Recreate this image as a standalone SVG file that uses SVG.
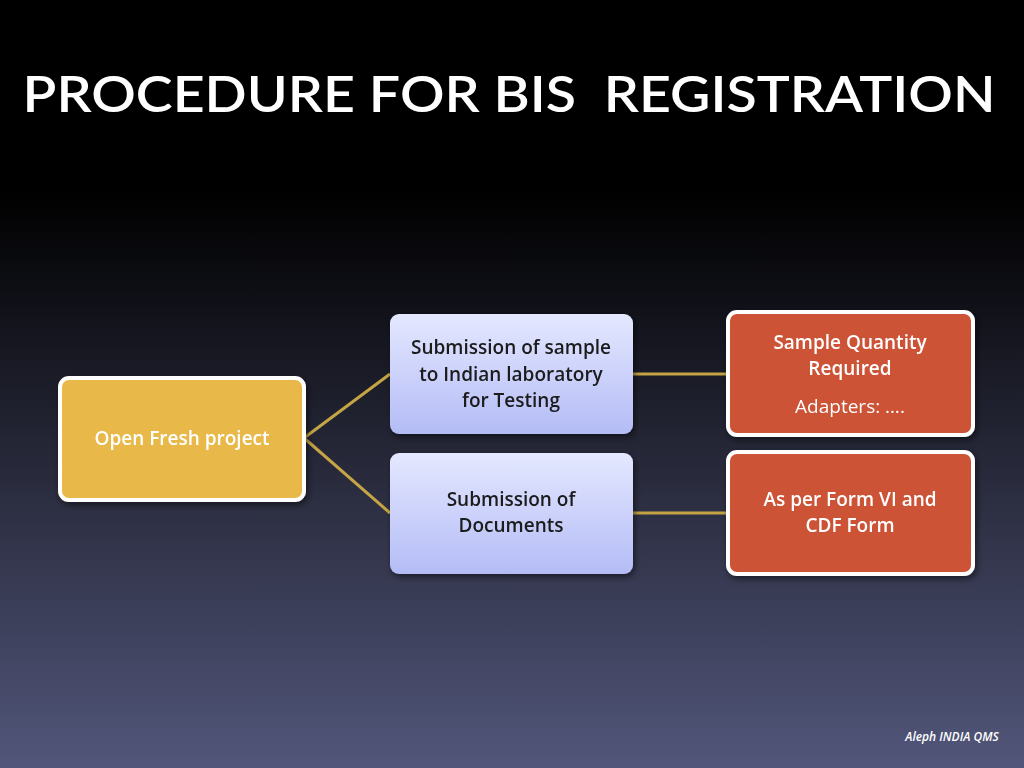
<svg xmlns="http://www.w3.org/2000/svg" width="1024" height="768" viewBox="0 0 1024 768">
<defs>
<linearGradient id="bg" x1="0" y1="0" x2="0" y2="1">
<stop offset="0" stop-color="#000"/><stop offset="0.25" stop-color="#000"/><stop offset="1" stop-color="#52567a"/>
</linearGradient>
<linearGradient id="blue" x1="0" y1="0" x2="0" y2="1">
<stop offset="0" stop-color="#e4e8ff"/><stop offset="1" stop-color="#b4bcf6"/>
</linearGradient>
<filter id="sh" x="-10%" y="-10%" width="130%" height="130%"><feDropShadow dx="2" dy="3" stdDeviation="3" flood-opacity="0.5"/></filter>
</defs>
<style>
text{font-family:"Open Sans","Liberation Sans",sans-serif;font-weight:600;text-anchor:middle}
.w{fill:#fff;font-size:19px}
.d{fill:#1a1a1a;font-size:19px}
.gold{fill:#e8b94a;stroke:#fff;stroke-width:4}
.red{fill:#cc5236;stroke:#fff;stroke-width:4}
.blue{fill:url(#blue)}
.c{stroke:#c4a445;stroke-width:3;fill:none}
</style>
<rect width="1024" height="768" fill="url(#bg)"/>
<text x="509" y="112" fill="#fff" font-size="50" textLength="973" lengthAdjust="spacingAndGlyphs" xml:space="preserve" style="font-family:Lato,'Open Sans',sans-serif;font-weight:600;white-space:pre">PROCEDURE FOR BIS  REGISTRATION</text>
<g id="connectors">
<path class="c" d="M304 438 L390 374 M304 438 L390 513 M633 374 L728 374 M633 513 L728 513"/>
</g>
<g id="n1" filter="url(#sh)"><rect class="gold" x="60" y="378" width="244" height="122" rx="9"/><text class="w" x="182" y="445">Open Fresh project</text></g>
<g id="n2" filter="url(#sh)"><rect class="blue" x="390" y="314" width="243" height="120" rx="9"/><text class="d" x="511" y="354">Submission of sample</text><text class="d" x="511" y="381">to Indian laboratory</text><text class="d" x="511" y="407">for Testing</text></g>
<g id="n3" filter="url(#sh)"><rect class="blue" x="390" y="453" width="243" height="121" rx="9"/><text class="d" x="511" y="506">Submission of</text><text class="d" x="511" y="532">Documents</text></g>
<g id="n4" filter="url(#sh)"><rect class="red" x="728" y="312" width="245" height="123" rx="9"/><text class="w" x="850" y="349">Sample Quantity</text><text class="w" x="850" y="375">Required</text><text class="w" x="850" y="413" style="font-weight:400">Adapters: ….</text></g>
<g id="n5" filter="url(#sh)"><rect class="red" x="728" y="452" width="245" height="122" rx="9"/><text class="w" x="850" y="506">As per Form VI and</text><text class="w" x="850" y="532">CDF Form</text></g>
<text x="952" y="741" fill="#fff" font-size="12" font-style="italic" font-weight="700">Aleph INDIA QMS</text>
</svg>
